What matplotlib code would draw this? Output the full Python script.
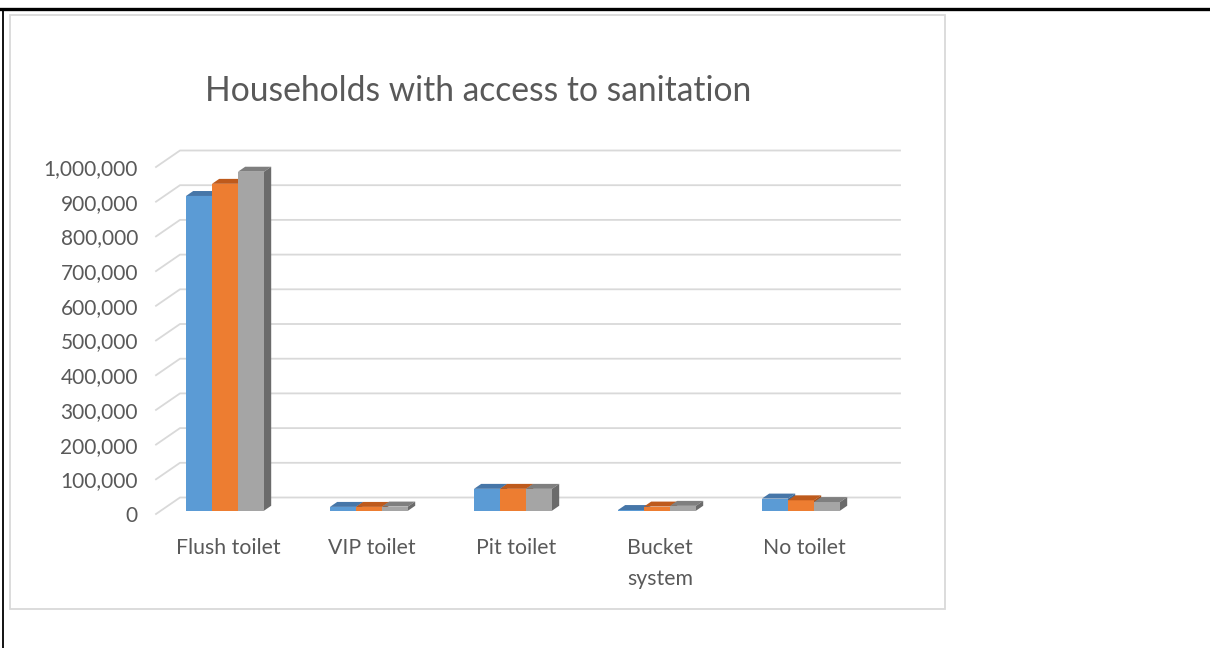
import matplotlib
matplotlib.use("Agg")
import matplotlib.pyplot as plt
from matplotlib.patches import Polygon
from matplotlib.lines import Line2D
from matplotlib.ticker import FuncFormatter
import numpy as np

# ---- data ----
categories = ["Flush toilet", "VIP toilet", "Pit toilet", "Bucket\nsystem", "No toilet"]
series_1 = [907000, 11000, 63000, 2000, 35000]
series_2 = [942000, 11000, 63000, 12000, 30000]
series_3 = [977000, 12000, 63000, 14000, 25000]
y_ticks = list(range(0, 1000001, 100000))

series = [series_1, series_2, series_3]
front_colors = ["#5B9BD5", "#ED7D31", "#A5A5A5"]
top_colors = ["#4676A8", "#BE5A1C", "#7F7F7F"]
side_colors = ["#3E6A98", "#A84F17", "#6B6B6B"]
text_color = "#595959"
grid_color = "#D9D9D9"

W, H = 1210, 648
fig = plt.figure(figsize=(W / 100, H / 100), dpi=100)
plt.rcParams['font.family'] = ['Lato', 'DejaVu Sans']

def fx(px):
    return px / W

def fy(py):
    return 1 - py / H

# outer frame lines (black) and chart area border (light gray)
fig.add_artist(Line2D([0, 1], [fy(9), fy(9)], transform=fig.transFigure, color="black", lw=2.4))
fig.add_artist(Line2D([fx(2.5), fx(2.5)], [fy(9), 0], transform=fig.transFigure, color="black", lw=1.3))
fig.add_artist(plt.Rectangle((fx(9.5), fy(608.5)), fx(945) - fx(9.5), fy(15) - fy(608.5),
                             transform=fig.transFigure, fill=False, ec=grid_color, lw=1.3))

# axes = front plane of 3D chart
x_left_px, x_right_px = 156, 876
y0_px, y1_px = 514, 167
ax = fig.add_axes([fx(x_left_px), fy(y0_px), (x_right_px - x_left_px) / W, (y0_px - y1_px) / H])
n = len(categories)
ax.set_xlim(-0.5, n - 0.5)
ax.set_ylim(0, 1000000)
for s in ax.spines.values():
    s.set_visible(False)
ax.patch.set_visible(False)

px_x = (x_right_px - x_left_px) / n          # pixels per category unit
px_y = (y0_px - y1_px) / 1000000              # pixels per value unit
ddx = 24 / px_x                               # floor depth in data units
ddy = 16.5 / px_y

# wall gridlines
for v in y_ticks:
    ax.plot([-0.5, -0.5 + ddx, n - 0.5 + ddx], [v, v + ddy, v + ddy],
            color=grid_color, lw=1.3, clip_on=False, zorder=1)

# bars
bw = 26 / px_x
base = 0.2 * ddy
bdx = 0.3 * ddx
bdy = 0.3 * ddy
cluster_start = (186 - 228) / px_x
for i in range(n):
    for j, vals in enumerate(series):
        v = vals[i]
        x0 = i + cluster_start + j * bw
        x1 = x0 + bw
        yb = base
        yt = base + v
        # front
        ax.add_patch(Polygon([(x0, yb), (x1, yb), (x1, yt), (x0, yt)], closed=True,
                             fc=front_colors[j], ec="none", clip_on=False, zorder=3))
        # top
        ax.add_patch(Polygon([(x0, yt), (x1, yt), (x1 + bdx, yt + bdy), (x0 + bdx, yt + bdy)],
                             closed=True, fc=top_colors[j], ec="none", clip_on=False, zorder=3))
        # side
        ax.add_patch(Polygon([(x1, yb), (x1 + bdx, yb + bdy), (x1 + bdx, yt + bdy), (x1, yt)],
                             closed=True, fc=side_colors[j], ec="none", clip_on=False, zorder=3))

ax.set_yticks(y_ticks)
ax.yaxis.set_major_formatter(FuncFormatter(lambda v, p: f"{int(v):,}"))
ax.set_xticks(range(n))
ax.set_xticklabels(categories, linespacing=1.72)
ax.tick_params(axis="y", length=0, pad=13, labelsize=15, labelcolor=text_color)
ax.tick_params(axis="x", length=0, pad=17, labelsize=15.3, labelcolor=text_color)

fig.text(fx(478), fy(91), "Households with access to sanitation", ha="center", va="center",
         fontsize=24.2, color=text_color)

fig.savefig("out.png", dpi=100, facecolor="white")
